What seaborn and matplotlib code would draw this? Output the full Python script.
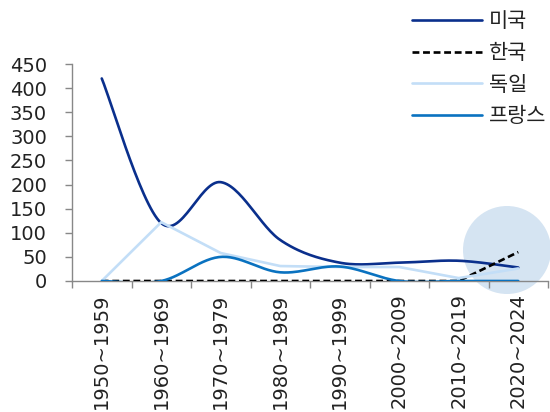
import numpy as np
import pandas as pd
import matplotlib
matplotlib.use("Agg")
import matplotlib.pyplot as plt
import seaborn as sns
from matplotlib.patches import Ellipse

categories = ["1950~1959", "1960~1969", "1970~1979", "1980~1989",
              "1990~1999", "2000~2009", "2010~2019", "2020~2024"]
usa = [420, 120, 205, 85, 38, 38, 42, 28]
korea = [0, 0, 0, 0, 0, 0, 0, 60]
germany = [0, 122, 58, 31, 29, 29, 6, 26]
france = [0, 0, 50, 18, 30, 0, 0, 0]
y_ticks = [0, 50, 100, 150, 200, 250, 300, 350, 400, 450]

series_names = ["미국", "한국", "독일", "프랑스"]
series_vals = [usa, korea, germany, france]
colors = ["#0a2f8c", "#000000", "#c3def7", "#0a72c0"]
smooth = [True, False, False, True]


def smooth_curve(y, n=30):
    y = np.asarray(y, float)
    x = np.arange(len(y), dtype=float)
    px = np.concatenate([[x[0]], x, [x[-1]]])
    py = np.concatenate([[y[0]], y, [y[-1]]])
    xs, ys = [], []
    for i in range(1, len(px) - 2):
        p0, p1, p2, p3 = py[i - 1], py[i], py[i + 1], py[i + 2]
        q0, q1, q2, q3 = px[i - 1], px[i], px[i + 1], px[i + 2]
        t = np.linspace(0, 1, n, endpoint=False)
        c1y = p1 + (p2 - p0) / 6
        c2y = p2 - (p3 - p1) / 6
        c1x = q1 + (q2 - q0) / 6
        c2x = q2 - (q3 - q1) / 6
        bx = (1 - t) ** 3 * q1 + 3 * (1 - t) ** 2 * t * c1x + 3 * (1 - t) * t ** 2 * c2x + t ** 3 * q2
        by = (1 - t) ** 3 * p1 + 3 * (1 - t) ** 2 * t * c1y + 3 * (1 - t) * t ** 2 * c2y + t ** 3 * p2
        xs.append(bx)
        ys.append(by)
    xs.append([x[-1]])
    ys.append([y[-1]])
    return np.concatenate(xs), np.concatenate(ys)


sns.set_theme(style="white")
plt.rcParams["font.family"] = ["DejaVu Sans", "Noto Sans CJK KR"]

fig = plt.figure(figsize=(5.5, 4.12), dpi=100)
ax = fig.add_axes([72 / 550, 1 - 281 / 412, (548 - 72) / 550, (281 - 64) / 412])

for name, vals, col, sm in zip(series_names, series_vals, colors, smooth):
    if sm:
        xs, ys = smooth_curve(vals)
    else:
        xs, ys = np.arange(len(vals), dtype=float), np.asarray(vals, float)
    df = pd.DataFrame({"x": xs, "y": ys})
    sns.lineplot(data=df, x="x", y="y", ax=ax, color=col, lw=1.9,
                 label=name, sort=False, estimator=None, zorder=3)
    if name == "한국":
        ax.lines[-1].set_dashes((2.6, 1.4))

ax.set_xlim(-0.5, len(categories) - 0.5)
ax.set_ylim(0, 450)
ax.set_yticks(y_ticks)
ax.set_yticklabels([str(v) for v in y_ticks], fontsize=14, color="#222222")
ax.set_xticks(np.arange(len(categories)))
ax.set_xticklabels(categories, rotation=90, fontsize=14, color="#222222")
ax.set_xticks(np.arange(-0.5, len(categories)), minor=True)
ax.tick_params(axis="x", which="major", length=0, pad=9)
ax.tick_params(axis="x", which="minor", length=5, color="#888888", width=1, direction="out", bottom=True)
ax.tick_params(axis="y", length=5, color="#888888", width=1, direction="out", left=True, pad=13)
ax.set_xlabel("")
ax.set_ylabel("")
for s in ["top", "right"]:
    ax.spines[s].set_visible(False)
for s in ["left", "bottom"]:
    ax.spines[s].set_color("#888888")
    ax.spines[s].set_linewidth(1)
ax.patch.set_alpha(0)

# highlight circle
circ = Ellipse((507 / 550, 1 - 250 / 412), 88 / 550, 88 / 412, transform=fig.transFigure,
               facecolor="#d5e4f2", edgecolor="none", zorder=-1, clip_on=False)
fig.patches.append(circ)

handles, labels = ax.get_legend_handles_labels()
leg = ax.legend(handles, labels, loc="upper right", bbox_to_anchor=(1.012, 1.0),
                bbox_transform=fig.transFigure,
                frameon=False, handlelength=3.35, labelspacing=0.46,
                handletextpad=0.34, borderaxespad=0.1,
                prop={"family": ["Noto Sans CJK KR", "DejaVu Sans"], "size": 15})
for t in leg.get_texts():
    t.set_color("#222222")

fig.savefig("out.png", dpi=100)
